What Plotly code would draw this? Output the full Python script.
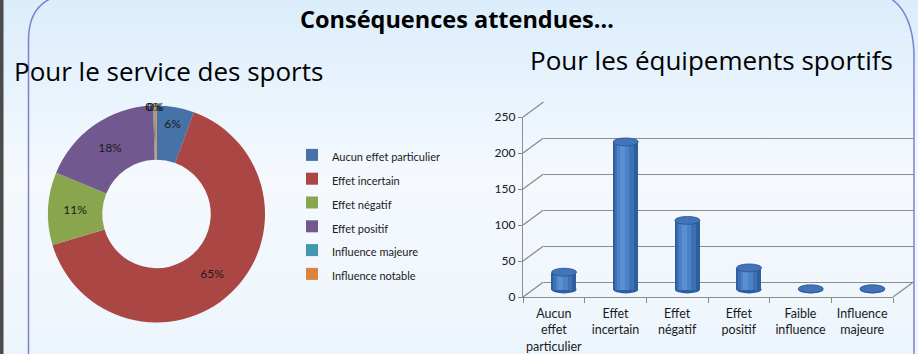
import base64
import plotly.graph_objects as go

# ---------------- data ----------------
pie_labels = ["Aucun effet particulier", "Effet incertain", "Effet négatif",
              "Effet positif", "Influence majeure", "Influence notable"]
pie_values = [5.6, 64.8, 10.8, 18.3, 0.2, 0.3]
pie_colors = ["#4572A7", "#AA4643", "#89A54E", "#71588F", "#4198AF", "#DB843D"]

bar_categories = ["Aucun<br>effet<br>particulier", "Effet<br>incertain", "Effet<br>négatif",
                  "Effet<br>positif", "Faible<br>influence", "Influence<br>majeure"]
bar_values = [24, 205, 96, 30, 1, 1]
y_ticks = [0, 50, 100, 150, 200, 250]

title_main = "Conséquences attendues…"
title_left = "Pour le service des sports"
title_right = "Pour les équipements sportifs"

W, H = 918, 354
def px(x):
    return x / W
def py(y):
    return 1 - y / H

FONT = "Lato"
TXT = "#1a1a1a"
GRID = "#8c8c8c"

# ---------------- background (gradient + frame) ----------------
svg = f"""<svg xmlns='http://www.w3.org/2000/svg' width='{W}' height='{H}' viewBox='0 0 {W} {H}' preserveAspectRatio='none'>
<defs><linearGradient id='g' x1='0' y1='0' x2='0' y2='1'>
<stop offset='0' stop-color='#dbedfb'/><stop offset='0.5' stop-color='#f5f9fe'/><stop offset='1' stop-color='#edf5fc'/>
</linearGradient></defs>
<rect width='{W}' height='{H}' fill='url(#g)'/>
<rect x='0' y='0' width='3.5' height='{H}' fill='#4b4b4b'/>
<path d='M28.5 360 L28.5 40 Q28.5 8 52 -2' fill='none' stroke='#7d80cf' stroke-width='1.5'/>
<path d='M914 360 L914 52 Q912 12 890 -2' fill='none' stroke='#7d80cf' stroke-width='1.5'/>
</svg>"""
bg_uri = "data:image/svg+xml;base64," + base64.b64encode(svg.encode("utf-8")).decode("ascii")

fig = go.Figure()

# ---------------- pie (donut) ----------------
fig.add_trace(go.Pie(
    labels=[f"<span style='font-size:11px'>{l}</span>" for l in pie_labels],
    values=pie_values,
    hole=0.5,
    sort=False,
    direction="clockwise",
    marker=dict(colors=pie_colors, line=dict(width=0)),
    texttemplate="%{percent:.0%}",
    textposition="inside",
    insidetextorientation="horizontal",
    textfont=dict(family=FONT, size=12, color=TXT),
    domain=dict(x=[px(48), px(265)], y=[py(323), py(105)]),
    showlegend=True,
))

# ---------------- bars (cylinders on mid-depth axes x3/y3) ----------------
bw = 0.405
layers = [
    (bw, -bw / 2, "#2f5e9e"),
    (0.31, -0.17, "#3d70b5"),
    (0.19, -0.13, "#4c82c6"),
    (0.08, -0.09, "#5a90d3"),
]
for w, off, col in layers:
    fig.add_trace(go.Bar(
        x=list(range(len(bar_values))), y=bar_values,
        width=w, offset=off,
        marker=dict(color=col, line=dict(width=0)),
        xaxis="x3", yaxis="y3", showlegend=False, hoverinfo="skip",
    ))

# invisible trace to carry front category axis
fig.add_trace(go.Bar(x=bar_categories, y=[0] * len(bar_categories),
                     xaxis="x", yaxis="y", showlegend=False, hoverinfo="skip",
                     marker=dict(color="rgba(0,0,0,0)")))

shapes = []
eh = 5.5  # half ellipse height in data units
for i, v in enumerate(bar_values):
    shapes.append(dict(type="circle", xref="x3", yref="y3",
                       x0=i - bw / 2, x1=i + bw / 2, y0=-eh, y1=eh,
                       fillcolor="#2f5e9e", line=dict(width=0), layer="below"))
    shapes.append(dict(type="circle", xref="x3", yref="y3",
                       x0=i - bw / 2, x1=i + bw / 2, y0=v - eh, y1=v + eh,
                       fillcolor="#4174b8", line=dict(color="#2a5290", width=0.8)))

# 3D wall geometry
fx0, fx1, fy0, fy1 = 523, 893, 297, 117      # front axis box (px)
dx, dy = 20.5, -15.0                         # depth offset (px)
for t in y_ticks:
    yf = fy0 + (fy1 - fy0) * t / 250
    shapes.append(dict(type="line", xref="paper", yref="paper",
                       x0=px(fx0), y0=py(yf), x1=px(fx0 + dx), y1=py(yf + dy),
                       line=dict(color=GRID, width=1.3)))
shapes.append(dict(type="line", xref="paper", yref="paper",
                   x0=px(fx1), y0=py(fy0), x1=px(fx1 + dx), y1=py(fy0 + dy),
                   line=dict(color=GRID, width=1.3)))

# ---------------- annotations (titles) ----------------
def title_ann(text, x, y, size):
    return dict(text=text, x=px(x), y=py(y), xref="paper", yref="paper",
                xanchor="center", yanchor="middle", showarrow=False,
                font=dict(family="Open Sans", size=size, color="#000"))

annotations = [
    title_ann(f"<b>{title_main}</b>", 457, 19, 23.5),
    title_ann(title_left, 168, 71, 26),
    title_ann(title_right, 711, 60, 26),
]

s = (fy0 - fy1) / 250.0  # px per unit
fig.update_layout(
    template="none",
    width=W, height=H,
    margin=dict(l=0, r=0, t=0, b=0, pad=0, autoexpand=False),
    paper_bgcolor="white",
    plot_bgcolor="rgba(0,0,0,0)",
    barmode="overlay",
    bargap=0,
    uniformtext=dict(minsize=12, mode="show"),
    font=dict(family=FONT, size=12, color=TXT),
    images=[dict(source=bg_uri, xref="paper", yref="paper", x=0, y=1,
                 sizex=1, sizey=1, xanchor="left", yanchor="top",
                 sizing="stretch", layer="below")],
    legend=dict(x=px(292), y=py(138), xanchor="left", yanchor="top",
                font=dict(family=FONT, size=16, color=TXT),
                bgcolor="rgba(0,0,0,0)", borderwidth=0),
    xaxis=dict(domain=[px(fx0), px(fx1)], anchor="y", type="category",
               range=[-0.5, 5.5], showline=True, linecolor=GRID, linewidth=1.3,
               ticks="outside", tickson="boundaries", ticklen=5, tickcolor=GRID,
               tickangle=0, automargin=False, ticklabelstandoff=5,
               showgrid=False, zeroline=False,
               tickfont=dict(family=FONT, size=12.5, color=TXT)),
    yaxis=dict(domain=[py(fy0), py(fy1)], anchor="x", range=[0, 250],
               tickvals=y_ticks, showline=True, linecolor=GRID, linewidth=1.3,
               ticks="outside", ticklen=4, tickcolor=GRID, showgrid=False,
               automargin=False,
               zeroline=False, tickfont=dict(family=FONT, size=12, color=TXT)),
    xaxis2=dict(domain=[px(fx0 + dx), px(fx1 + dx)], anchor="y2",
                range=[-0.5, 5.5], visible=False, automargin=False),
    yaxis2=dict(domain=[py(fy0 + dy), py(fy1 + dy)], anchor="x2", range=[0, 250],
                tickvals=y_ticks, showgrid=True, gridcolor=GRID, gridwidth=1.3,
                zeroline=True, zerolinecolor=GRID, zerolinewidth=1.3,
                showticklabels=False, ticks="", showline=False, automargin=False),
    xaxis3=dict(domain=[px(fx0 + dx / 2), px(fx1 + dx / 2)], anchor="y3",
                range=[-0.5, 5.5], visible=False, automargin=False),
    yaxis3=dict(domain=[py(fy0 + dy / 2 + 20 * s), py(fy1 + dy / 2)], anchor="x3",
                range=[-20, 250], visible=False, automargin=False),
    shapes=shapes,
    annotations=annotations,
)

fig.add_trace(go.Scatter(x=[0], y=[0], xaxis="x2", yaxis="y2", mode="markers",
                         marker=dict(opacity=0), showlegend=False, hoverinfo="skip"))

fig.write_html("out.html")
